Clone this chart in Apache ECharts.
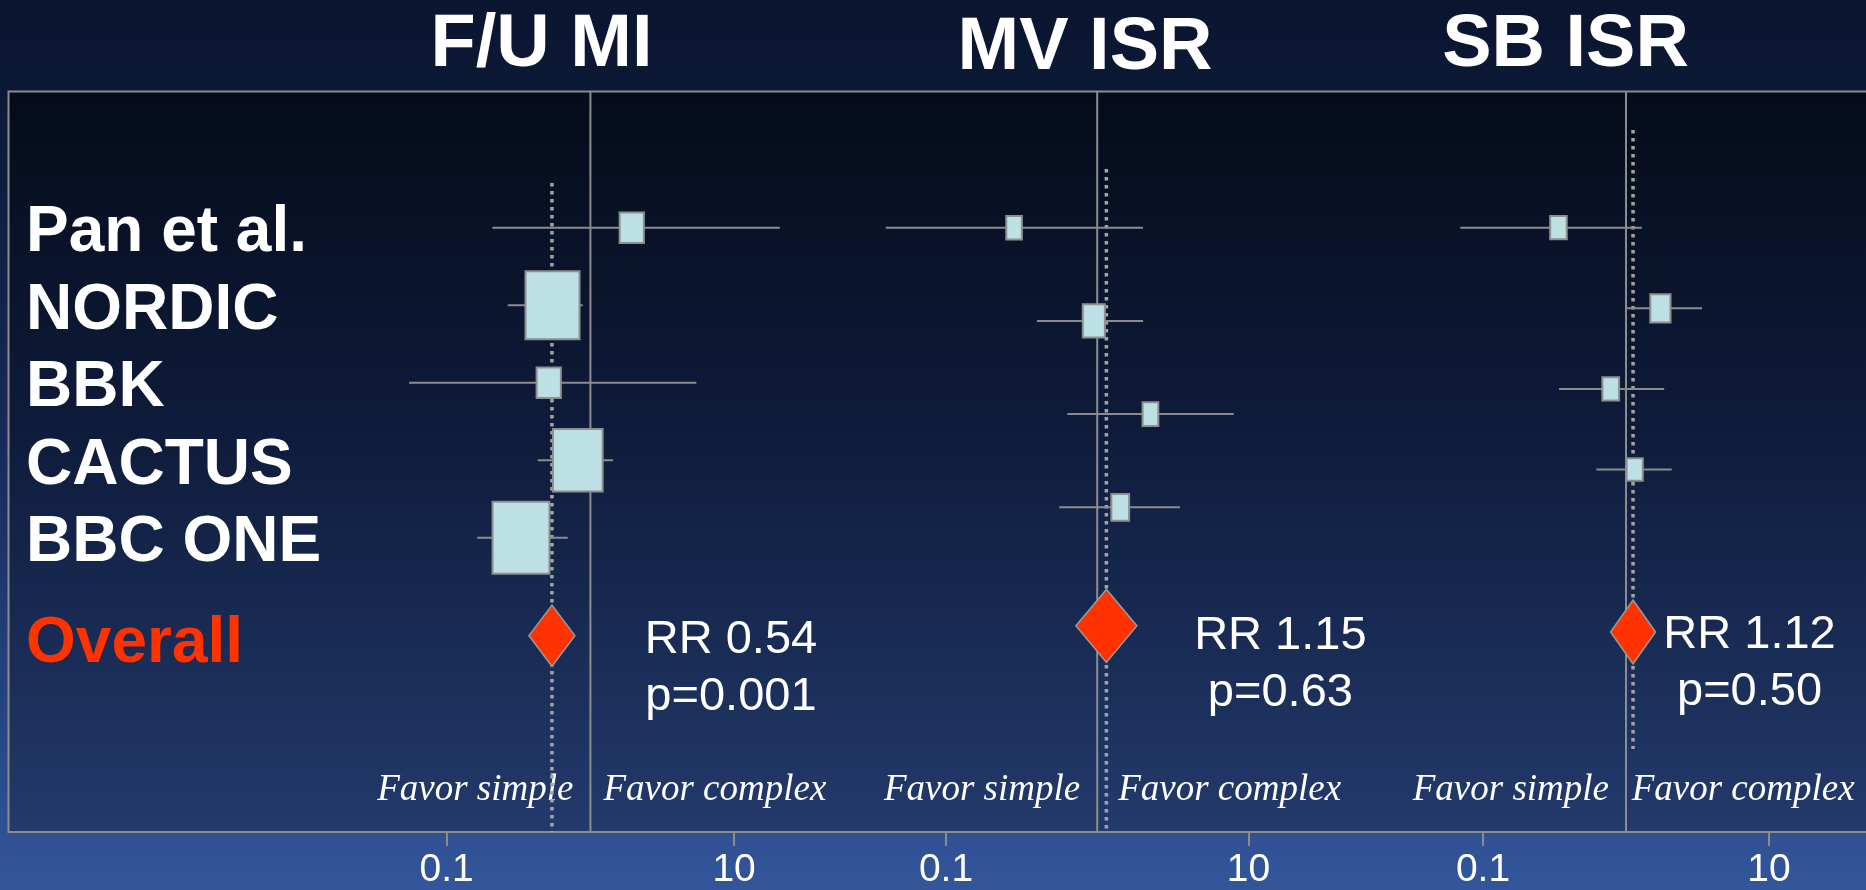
<!DOCTYPE html>
<html>
<head>
<meta charset="utf-8">
<script src="https://cdn.jsdelivr.net/npm/echarts@6/dist/echarts.min.js"></script>
<style>
  html, body { margin: 0; padding: 0; background: #0b1631; }
  #chart { width: 1866px; height: 890px; }
</style>
</head>
<body>
<div id="chart"></div>
<script>
// ---- Data: relative risks (simple vs complex bifurcation stenting) ----
const panelTitles = ['F/U MI', 'MV ISR', 'SB ISR'];

const fuMiStudies = ['Pan et al.', 'NORDIC', 'BBK', 'CACTUS', 'BBC ONE'];
const fuMiRR      = [1.94, 0.545, 0.513, 0.817, 0.329];
const fuMiLow     = [0.208, 0.266, 0.0547, 0.43, 0.163];
const fuMiHigh    = [20.8, 0.884, 5.46, 1.44, 0.695];
const fuMiWeight  = [6.0, 29.8, 6.0, 25.2, 33.0];

const mvIsrStudies = ['Pan et al.', 'NORDIC', 'BBK', 'CACTUS'];
const mvIsrRR      = [0.282, 0.95, 2.25, 1.42];
const mvIsrLow     = [0.040, 0.40, 0.634, 0.56];
const mvIsrHigh    = [2.01, 2.01, 8.0, 3.53];
const mvIsrWeight  = [18.8, 37.7, 19.1, 24.4];

const sbIsrStudies = ['Pan et al.', 'NORDIC', 'BBK', 'CACTUS'];
const sbIsrRR      = [0.337, 1.74, 0.782, 1.15];
const sbIsrLow     = [0.0694, 1.0, 0.34, 0.62];
const sbIsrHigh    = [1.29, 3.40, 1.85, 2.09];
const sbIsrWeight  = [22.4, 33.3, 22.8, 21.5];

const overallRR = [0.54, 1.15, 1.12];
const overallP  = ['0.001', '0.63', '0.50'];
const overallLabel = 'Overall';

const tickValues = [0.1, 10];
const favorLabels = ['Favor simple', 'Favor complex'];

const panels = [
  { studies: fuMiStudies,  rr: fuMiRR,  low: fuMiLow,  high: fuMiHigh,  weight: fuMiWeight },
  { studies: mvIsrStudies, rr: mvIsrRR, low: mvIsrLow, high: mvIsrHigh, weight: mvIsrWeight },
  { studies: sbIsrStudies, rr: sbIsrRR, low: sbIsrLow, high: sbIsrHigh, weight: sbIsrWeight }
];

// ---- Layout (pixels); each panel has its own log10 x range ----
const FRAME_TOP = 91.5, FRAME_BOTTOM = 832;
const layout = [
  { left: 303.0, pxPerDecade: 143.7, logRange: [-2, 2], rowsTop: 189, rowsHeight: 387.5, overallMid: 635.7,
    boxScale: [9.9, 12.5], diamond: [46, 61], dotTop: 183, dotBottom: 832,
    labelOffset: [179, 33], titleX: 541.5, titleY: 46, favorGap: [17, 13] },
  { left: 794.8, pxPerDecade: 151.2, logRange: [-2, 2], rowsTop: 181.1, rowsHeight: 372.8, overallMid: 625.8,
    boxScale: [3.6, 5.4], diamond: [61, 73], dotTop: 169, dotBottom: 832,
    labelOffset: [174, 39], titleX: 1085, titleY: 49, favorGap: [17, 21] },
  { left: 1340, pxPerDecade: 143, logRange: [-2, 1.6], rowsTop: 187.4, rowsHeight: 322.4, overallMid: 632,
    boxScale: [3.5, 4.9], diamond: [45, 64], dotTop: 130, dotBottom: 749,
    labelOffset: [116.5, 32], titleX: 1565.5, titleY: 46, favorGap: [17, 5.7] }
];

const SANS = '"Liberation Sans", Arial, sans-serif';
const SERIF = '"Liberation Serif", "Times New Roman", serif';
const GREY = '#8c8c8c';
const LABEL_X = 26;

const grid = [], xAxis = [], yAxis = [], series = [];

panels.forEach((p, i) => {
  const L = layout[i];
  const width = (L.logRange[1] - L.logRange[0]) * L.pxPerDecade;
  const xMin = Math.pow(10, L.logRange[0]);
  const xMax = Math.pow(10, L.logRange[1]);
  const logX = (gi, extra) => Object.assign({ gridIndex: gi, type: 'log', logBase: 10, min: xMin, max: xMax }, extra);

  const gFrame = grid.length;
  grid.push({ left: L.left, width, top: FRAME_TOP, height: FRAME_BOTTOM - FRAME_TOP });
  const gRows = grid.length;
  grid.push({ left: L.left, width, top: L.rowsTop, height: L.rowsHeight });
  const gOverall = grid.length;
  grid.push({ left: L.left, width, top: L.overallMid - 30, height: 60 });

  // axis with the 0.1 / 10 ticks along the bottom of the frame
  xAxis.push(logX(gFrame, {
    axisLine: { show: false }, splitLine: { show: false },
    axisTick: { show: true, customValues: tickValues, length: 15, lineStyle: { color: GREY, width: 2 } },
    axisLabel: { show: true, customValues: tickValues, color: '#ffffff', fontSize: 39,
                 fontFamily: SANS, margin: 20, formatter: v => String(v) }
  }));
  yAxis.push({ gridIndex: gFrame, type: 'value', min: 0, max: 1, show: false });

  xAxis.push(logX(gRows, { show: false }));
  yAxis.push({
    gridIndex: gRows, type: 'category', data: p.studies, inverse: true, boundaryGap: true,
    axisLine: { show: false }, axisTick: { show: false }, splitLine: { show: false },
    axisLabel: i === 0
      ? { show: true, interval: 0, align: 'left', verticalAlign: 'top', lineHeight: 12,
          margin: L.left - LABEL_X, color: '#ffffff',
          fontSize: 64, fontWeight: 'bold', fontFamily: SANS }
      : { show: false }
  });

  xAxis.push(logX(gOverall, { show: false }));
  yAxis.push({
    gridIndex: gOverall, type: 'category', data: [overallLabel], inverse: true, boundaryGap: true,
    axisLine: { show: false }, axisTick: { show: false }, splitLine: { show: false },
    axisLabel: i === 0
      ? { show: true, interval: 0, align: 'left', verticalAlign: 'top', lineHeight: 18,
          margin: L.left - LABEL_X, color: '#ff3300',
          fontSize: 64, fontWeight: 'bold', fontFamily: SANS }
      : { show: false }
  });

  // line of no effect (RR = 1) and dotted line at the pooled estimate
  series.push({
    type: 'custom', xAxisIndex: gFrame, yAxisIndex: gFrame, z: 2, silent: true,
    data: [[1, 0], [overallRR[i], 1]],
    encode: { x: 0, y: 1 },
    renderItem(params, api) {
      const cs = params.coordSys;
      const x = api.coord([api.value(0), 0])[0];
      if (api.value(1) === 0) {
        return { type: 'line', shape: { x1: x, y1: cs.y, x2: x, y2: cs.y + cs.height },
                 style: { stroke: GREY, lineWidth: 2 } };
      }
      return { type: 'line', shape: { x1: x, y1: L.dotTop, x2: x, y2: L.dotBottom },
               style: { stroke: '#a4a4a4', lineWidth: 3.5, lineDash: [3.5, 4.5], lineCap: 'butt' } };
    }
  });

  // study estimates: CI whisker + weight-sized box
  series.push({
    type: 'custom', xAxisIndex: gRows, yAxisIndex: gRows, z: 3, silent: true,
    data: p.studies.map((s, k) => [p.rr[k], k, p.low[k], p.high[k], p.weight[k]]),
    encode: { x: [0, 2, 3], y: 1 },
    renderItem(params, api) {
      const cat = api.value(1);
      const c = api.coord([api.value(0), cat]);
      const lo = api.coord([api.value(2), cat]);
      const hi = api.coord([api.value(3), cat]);
      const s = Math.sqrt(api.value(4));
      const bw = s * L.boxScale[0], bh = s * L.boxScale[1];
      return {
        type: 'group',
        children: [
          { type: 'line', shape: { x1: lo[0], y1: c[1], x2: hi[0], y2: c[1] },
            style: { stroke: GREY, lineWidth: 2 } },
          { type: 'rect', shape: { x: c[0] - bw / 2, y: c[1] - bh / 2, width: bw, height: bh },
            style: { fill: '#bce0e3', stroke: '#8f8f8f', lineWidth: 2 } }
        ]
      };
    }
  });

  // pooled estimate diamond with RR / p annotation
  series.push({
    type: 'scatter', xAxisIndex: gOverall, yAxisIndex: gOverall, z: 4, silent: true,
    data: [[overallRR[i], 0]],
    symbol: 'diamond', symbolSize: L.diamond,
    itemStyle: { color: '#ff3300', borderColor: '#9a9a9a', borderWidth: 1.5, opacity: 1 },
    label: {
      show: true, position: 'inside', offset: L.labelOffset,
      align: 'center', verticalAlign: 'middle',
      color: '#ffffff', fontSize: 47, lineHeight: 57, fontFamily: SANS,
      formatter: prm => 'RR ' + prm.value[0].toFixed(2) + '\np=' + overallP[i]
    }
  });
});

const graphic = [
  {
    id: 'frame', type: 'rect', z: -10, silent: true,
    shape: { x: 8.5, y: FRAME_TOP, width: 1900, height: FRAME_BOTTOM - FRAME_TOP },
    style: {
      stroke: GREY, lineWidth: 2,
      fill: new echarts.graphic.LinearGradient(0, 0, 0, 1, [
        { offset: 0, color: '#050b19' },
        { offset: 0.45, color: '#0e1b3a' },
        { offset: 1, color: '#233a6c' }
      ])
    }
  }
];
panelTitles.forEach((t, i) => {
  graphic.push({
    id: 'title' + i, type: 'text', silent: true, x: layout[i].titleX, y: layout[i].titleY,
    style: { text: t, fill: '#ffffff', fontSize: 74, fontWeight: 'bold', fontFamily: SANS,
             align: 'center', verticalAlign: 'middle' }
  });
});

const chart = echarts.init(document.getElementById('chart'), null, { renderer: 'canvas' });
chart.setOption({
  animation: false,
  backgroundColor: new echarts.graphic.LinearGradient(0, 0, 0, 1, [
    { offset: 0, color: '#0a152f' },
    { offset: 0.1, color: '#0c1936' },
    { offset: 0.5, color: '#172a5a' },
    { offset: 1, color: '#33569b' }
  ]),
  grid, xAxis, yAxis, series, graphic
});

// "Favor simple" / "Favor complex" placed either side of the RR = 1 line
const favor = [];
layout.forEach((L, i) => {
  const x1 = chart.convertToPixel({ gridIndex: i * 3 }, [1, 0])[0];
  const base = { fill: '#ffffff', fontSize: 37, fontStyle: 'italic', fontFamily: SERIF, verticalAlign: 'middle' };
  favor.push({ id: 'fs' + i, type: 'text', silent: true, x: x1 - L.favorGap[0], y: 790.5,
               style: Object.assign({ text: favorLabels[0], align: 'right' }, base) });
  favor.push({ id: 'fc' + i, type: 'text', silent: true, x: x1 + L.favorGap[1], y: 790.5,
               style: Object.assign({ text: favorLabels[1], align: 'left' }, base) });
});
chart.setOption({ graphic: favor });
</script>
</body>
</html>
